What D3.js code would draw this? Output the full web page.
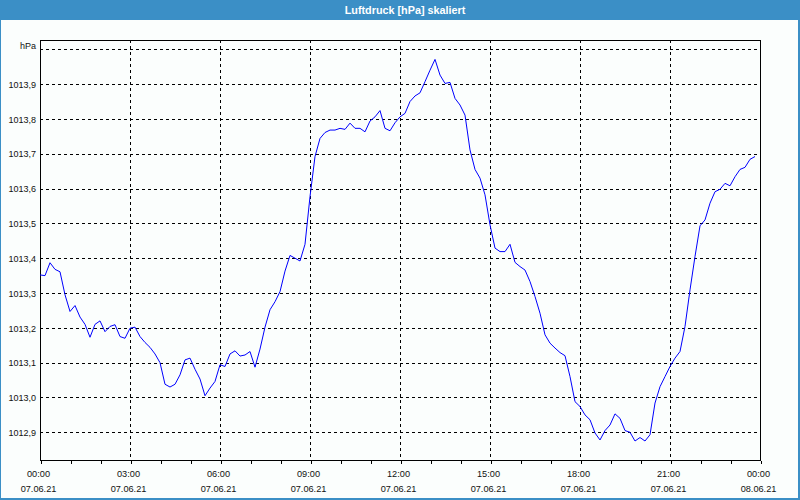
<!DOCTYPE html>
<html><head><meta charset="utf-8">
<script src="https://cdn.jsdelivr.net/npm/d3@7"></script>
<style>
html,body{margin:0;padding:0;background:#fff;}
svg{display:block;}
text{font-family:"Liberation Sans",Arial,sans-serif;}
</style></head>
<body>
<svg id="c" width="800" height="500"></svg>
<script>
// ---- data ----
const title = "Luftdruck [hPa] skaliert";
const unitLabel = "hPa";
const startTime = "2021-06-07T00:00";
const endTime = "2021-06-08T00:00";
const stepMinutes = 10;
const pressure = [
1013.352,1013.350,1013.387,1013.368,1013.361,1013.295,1013.247,1013.264,1013.231,1013.210,
1013.173,1013.210,1013.220,1013.189,1013.204,1013.209,1013.175,1013.170,1013.199,1013.202,
1013.175,1013.158,1013.144,1013.125,1013.100,1013.038,1013.030,1013.038,1013.065,1013.108,
1013.113,1013.081,1013.053,1013.005,1013.027,1013.046,1013.094,1013.089,1013.125,1013.134,
1013.119,1013.122,1013.132,1013.087,1013.139,1013.202,1013.252,1013.275,1013.304,1013.363,
1013.408,1013.400,1013.392,1013.440,1013.577,1013.692,1013.744,1013.761,1013.768,1013.768,
1013.773,1013.770,1013.788,1013.773,1013.773,1013.763,1013.794,1013.806,1013.824,1013.773,
1013.766,1013.789,1013.806,1013.816,1013.850,1013.866,1013.875,1013.907,1013.940,1013.971,
1013.926,1013.902,1013.905,1013.859,1013.840,1013.811,1013.711,1013.655,1013.630,1013.582,
1013.496,1013.429,1013.419,1013.419,1013.440,1013.388,1013.376,1013.366,1013.333,1013.290,
1013.242,1013.180,1013.156,1013.142,1013.129,1013.120,1013.060,1012.988,1012.974,1012.950,
1012.936,1012.898,1012.878,1012.905,1012.921,1012.953,1012.940,1012.905,1012.900,1012.875,
1012.885,1012.875,1012.893,1012.984,1013.031,1013.060,1013.089,1013.113,1013.132,1013.204,
1013.309,1013.405,1013.493,1013.510,1013.558,1013.591,1013.598,1013.615,1013.608,1013.634,
1013.655,1013.661,1013.684,1013.692
];
const yTicks = [1012.9,1013.0,1013.1,1013.2,1013.3,1013.4,1013.5,1013.6,1013.7,1013.8,1013.9,1014.0];
const xLabelHours = [0,3,6,9,12,15,18,21,24];

// ---- layout ----
const svg = d3.select("#c");
const W = 800, H = 500;
const L = 40, R = 760, T = 40, B = 460;

const parse = d3.timeParse("%Y-%m-%dT%H:%M");
const t0 = parse(startTime), t1 = parse(endTime);
const x = d3.scaleTime().domain([t0, t1]).range([L, R]);
const y = d3.scaleLinear().domain([1012.9, 1014.0]).range([432.3, 49.3]);
const data = pressure.map((v, i) => ({t: d3.timeMinute.offset(t0, i * stepMinutes), v}));

const de = d3.formatLocale({decimal: ",", thousands: ".", grouping: [3], currency: ["", "€"]});
const fmt = de.format(".1f");

// window frame
svg.append("rect").attr("width", W).attr("height", H).attr("fill", "#3b8fc6");
svg.append("rect").attr("x", 1).attr("y", 20).attr("width", W - 3).attr("height", H - 22).attr("fill", "#fbfefd");
svg.append("text").attr("x", 405).attr("y", 13.5).attr("text-anchor", "middle")
  .attr("fill", "#fff").attr("font-weight", "bold").attr("font-size", "10.8px").text(title);

// grid
const px = v => Math.round(v) + 0.5;
const g = svg.append("g");
g.selectAll("line.h").data(yTicks).join("line")
  .attr("x1", L).attr("x2", R).attr("y1", d => px(y(d))).attr("y2", d => px(y(d)))
  .attr("stroke", "#000").attr("stroke-dasharray", "3,3").attr("shape-rendering", "crispEdges");
const vHours = xLabelHours.filter(h => h > 0 && h < 24);
g.selectAll("line.v").data(vHours).join("line")
  .attr("x1", d => px(x(d3.timeHour.offset(t0, d)))).attr("x2", d => px(x(d3.timeHour.offset(t0, d))))
  .attr("y1", T).attr("y2", B)
  .attr("stroke", "#000").attr("stroke-dasharray", "3,3").attr("shape-rendering", "crispEdges");

// y axis labels
const yAxis = d3.axisLeft(y).tickValues(yTicks).tickSize(0).tickPadding(0)
  .tickFormat(d => Math.abs(d - 1014.0) < 1e-6 ? unitLabel : fmt(d));
const ya = svg.append("g").attr("transform", `translate(${L - 4},0)`).call(yAxis);
ya.select(".domain").remove();
ya.selectAll("text").attr("font-family", "Liberation Sans, Arial, sans-serif")
  .attr("font-size", "9px").attr("fill", "#111").attr("dy", "0.35em");
ya.selectAll(".tick").filter(d => Math.abs(d - 1014.0) < 1e-6).select("text").attr("dy", "-0.05em");

// x axis ticks (hourly) and labels
const xAxis = d3.axisBottom(x).ticks(d3.timeHour.every(1)).tickSize(3).tickFormat("");
const xa = svg.append("g").attr("transform", `translate(0,${B + 0.5})`).call(xAxis);
xa.select(".domain").remove();
xa.selectAll("line").attr("stroke", "#000").attr("shape-rendering", "crispEdges")
  .attr("transform", d => `translate(${px(x(d)) - x(d)},0)`);
const fTime = d3.timeFormat("%H:%M"), fDate = d3.timeFormat("%d.%m.%y");
const lab = svg.append("g").selectAll("g").data(xLabelHours.map(h => d3.timeHour.offset(t0, h))).join("g")
  .attr("transform", d => `translate(${x(d) - 1.5},0)`);
lab.append("text").attr("y", 477).attr("text-anchor", "middle").attr("font-size", "9.2px").attr("fill", "#111").text(d => fTime(d));
lab.append("text").attr("y", 492).attr("text-anchor", "middle").attr("font-size", "9.2px").attr("fill", "#111").text(d => fDate(d));

// plot frame
svg.append("rect").attr("x", L + 0.5).attr("y", T + 0.5).attr("width", R - L).attr("height", B - T)
  .attr("fill", "none").attr("stroke", "#000").attr("shape-rendering", "crispEdges");

// line
const line = d3.line().x(d => x(d.t)).y(d => y(d.v));
svg.append("path").datum(data).attr("d", line).attr("fill", "none").attr("stroke", "#0000ff").attr("stroke-width", 1);
</script>
</body></html>
